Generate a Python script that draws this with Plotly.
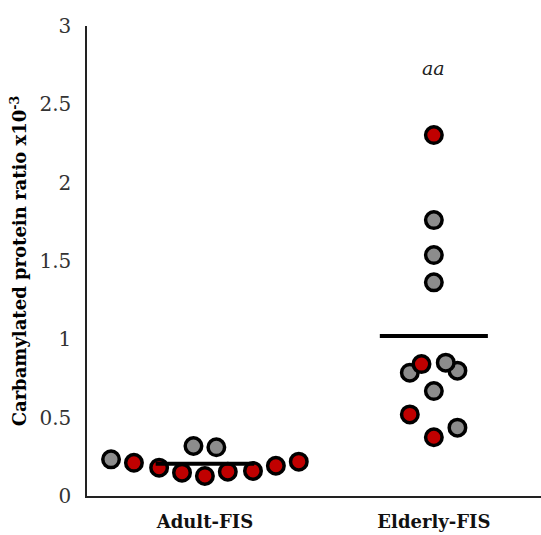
import plotly.graph_objects as go

# Data
groups = ["Adult-FIS", "Elderly-FIS"]

adult_values = [0.234, 0.212, 0.181, 0.149, 0.128, 0.155, 0.160, 0.193, 0.219, 0.319, 0.311]
adult_jitter = [-0.41, -0.31, -0.20, -0.10, 0.0, 0.10, 0.21, 0.31, 0.41, -0.05, 0.05]
adult_kind = ["g", "r", "r", "r", "r", "r", "r", "r", "r", "g", "g"]

elderly_values = [2.304, 1.761, 1.538, 1.364, 0.787, 0.842, 0.800, 0.851, 0.670, 0.521, 0.436, 0.375]
elderly_jitter = [0.0, 0.0, 0.0, 0.0, -0.105, -0.054, 0.103, 0.052, 0.0, -0.105, 0.103, 0.0]
elderly_kind = ["r", "g", "g", "g", "g", "r", "g", "g", "g", "r", "g", "r"]

annotation_text = "aa"
annotation_value = 2.73

RED = "#C00000"
GRAY = "#8C8C8C"
colors = {"r": RED, "g": GRAY}
SERIF = "DejaVu Serif"

fig = go.Figure()

for gi, (vals, jit, kinds) in enumerate([(adult_values, adult_jitter, adult_kind),
                                          (elderly_values, elderly_jitter, elderly_kind)]):
    xs = [gi + 1 + j for j in jit]
    fig.add_trace(go.Scatter(
        x=xs, y=vals, mode="markers",
        marker=dict(size=16.5, color=[colors[k] for k in kinds],
                    line=dict(color="black", width=3.5)),
        showlegend=False, hoverinfo="skip"))

# mean lines
half = [0.215, 0.236]
for gi, vals in enumerate([adult_values, elderly_values]):
    m = sum(vals) / len(vals)
    fig.add_trace(go.Scatter(
        x=[gi + 1 - half[gi], gi + 1 + half[gi]], y=[m, m], mode="lines",
        line=dict(color="black", width=4), showlegend=False, hoverinfo="skip"))

fig.add_annotation(x=2, y=annotation_value, text=f"<i>{annotation_text}</i>", showarrow=False,
                   font=dict(family=SERIF, size=19, color="#222"),
                   xref="x", yref="y")

fig.update_layout(
    width=541, height=535,
    margin=dict(l=87, r=0, t=26, b=39),
    paper_bgcolor="white", plot_bgcolor="white",
    font=dict(family=SERIF, color="black"),
    xaxis=dict(range=[0.485, 2.468], tickvals=[1, 2], ticktext=[f"<b>{g}</b>" for g in groups],
               showgrid=False, zeroline=False, showline=True, linecolor="#222", linewidth=1.5,
               ticks="", tickfont=dict(family=SERIF, size=18, color="#111"), ticklabelstandoff=9),
    yaxis=dict(range=[0, 3], dtick=0.5, tick0=0, showgrid=False, zeroline=False,
               showline=True, linecolor="#222", linewidth=1.5, ticks="",
               tickfont=dict(family=SERIF, size=20, color="#333"), ticklabelstandoff=10,
               title=dict(text="<b>Carbamylated protein ratio x10<sup>-3</sup></b>",
                          font=dict(family=SERIF, size=18, color="black"), standoff=8)),
)

fig.write_html("out.html")
